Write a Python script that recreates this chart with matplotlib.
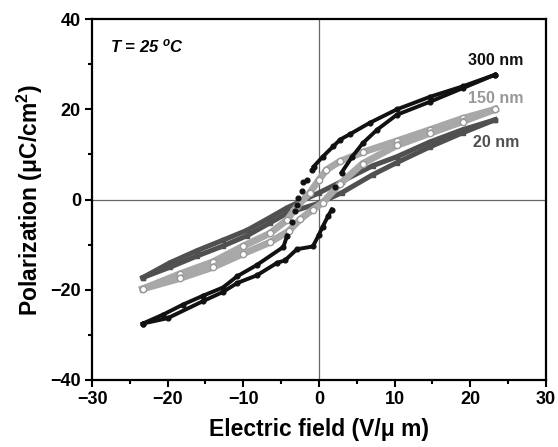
import matplotlib
matplotlib.use('Agg')
import matplotlib.pyplot as plt
from matplotlib.ticker import MultipleLocator

plt.rcParams['font.family'] = ['Liberation Sans', 'DejaVu Sans']
plt.rcParams['mathtext.fontset'] = 'custom'
plt.rcParams['mathtext.rm'] = 'Liberation Sans:bold'
plt.rcParams['mathtext.it'] = 'Liberation Sans:bold:italic'

# 300 nm loop: branch coming down from +Emax, then branch going back up
e300_down = [23.3, 19.0, 14.7, 10.3, 6.7, 4.1, 2.8, 1.9, 0.5, -0.7, -0.9, -1.6, -2.1,
             -2.2, -2.8, -2.9, -3.2, -3.6, -4.2, -4.7, -8.2, -10.8, -12.7, -15.3, -18.0,
             -20.6, -23.3]
p300_down = [27.7, 25.1, 22.8, 20.0, 17.0, 14.5, 13.3, 11.8, 9.5, 7.3, 6.6, 4.4, 4.0,
             1.8, 0.4, -1.1, -2.6, -5.0, -8.0, -10.5, -14.5, -17.0, -19.5, -21.3, -23.3,
             -25.5, -27.5]
e300_up = [-23.3, -20.0, -15.3, -12.7, -10.8, -8.2, -5.5, -4.5, -2.9, -0.8, 0.0, 0.5,
           1.2, 1.7, 2.1, 3.0, 4.4, 5.8, 7.7, 10.3, 14.7, 19.0, 23.3]
p300_up = [-27.5, -26.3, -22.5, -20.5, -18.5, -16.8, -14.0, -13.5, -11.0, -10.4, -7.8, -6.0,
           -3.7, -2.2, 2.7, 6.0, 9.5, 12.5, 15.5, 18.8, 21.7, 24.7, 27.7]

# 150 nm loop
e150_down = [23.3, 19.0, 14.7, 10.3, 5.8, 2.8, 1.0, 0.0, -1.2, -2.9, -4.2, -6.5, -10.0,
             -14.0, -18.4, -23.3]
p150_down = [20.0, 18.0, 15.5, 13.0, 10.5, 8.5, 6.6, 4.4, 1.5, -1.5, -4.5, -7.5, -10.3,
             -13.8, -16.5, -19.8]
e150_up = [-23.3, -18.4, -14.0, -10.0, -6.5, -4.0, -2.5, -0.8, 0.5, 2.8, 5.8, 10.3, 14.7,
           19.0, 23.3]
p150_up = [-19.8, -17.5, -15.0, -12.0, -9.5, -7.0, -4.4, -2.2, -0.7, 3.5, 8.0, 12.0, 14.7,
           17.3, 20.0]

# 20 nm loop
e20_down = [23.3, 19.0, 14.7, 10.3, 7.1, 3.0, 0.0, -4.2, -6.5, -9.5, -12.7, -16.1, -19.7,
            -23.3]
p20_down = [17.7, 15.5, 12.8, 9.5, 7.5, 4.0, 1.5, -1.8, -4.0, -6.8, -9.0, -11.3, -14.0,
            -17.3]
e20_up = [-23.3, -19.7, -16.1, -12.7, -9.5, -6.5, -4.2, 0.0, 3.0, 7.1, 10.3, 14.7, 19.0,
          23.3]
p20_up = [-17.3, -15.0, -12.5, -10.3, -8.0, -5.2, -3.0, -0.8, 1.5, 5.5, 8.2, 11.7, 14.8,
          17.7]

fig = plt.figure(figsize=(5.58, 4.47), dpi=100)
ax = fig.add_axes([0.165, 0.150, 0.813, 0.807])

ax.axhline(0, color='#666666', lw=0.9, zorder=1)
ax.axvline(0, color='#666666', lw=0.9, zorder=1)

for e, p in [(e20_down, p20_down), (e20_up, p20_up)]:
    ax.plot(e, p, '-s', color='#505050', lw=3.6, ms=3.2, zorder=2)
for e, p in [(e150_down, p150_down), (e150_up, p150_up)]:
    ax.plot(e, p, '-', color='#a8a8a8', lw=5, zorder=3)
    ax.plot(e, p, 'o', mfc='white', mec='#999999', ms=4.5, mew=1, zorder=3)

# 300 nm: solid where the points are dense, bare dots in the switching part
ax.plot(e300_down[:10], p300_down[:10], '-', color='#111111', lw=2.8, zorder=4)
ax.plot(e300_down[18:], p300_down[18:], '-', color='#111111', lw=2.8, zorder=4)
ax.plot(e300_down, p300_down, 'o', color='#111111', ms=3.4, zorder=4)
ax.plot(e300_up[:14], p300_up[:14], '-', color='#111111', lw=2.8, zorder=4)
ax.plot(e300_up[15:], p300_up[15:], '-', color='#111111', lw=2.8, zorder=4)
ax.plot(e300_up, p300_up, 'o', color='#111111', ms=3.4, zorder=4)

ax.set_xlim(-30, 30)
ax.set_ylim(-40, 40)
ax.xaxis.set_major_locator(MultipleLocator(10))
ax.xaxis.set_minor_locator(MultipleLocator(5))
ax.yaxis.set_major_locator(MultipleLocator(20))
ax.yaxis.set_minor_locator(MultipleLocator(10))
ax.tick_params(which='major', direction='out', length=5, width=1.5, labelsize=13, pad=3)
ax.tick_params(which='minor', direction='out', length=3, width=1.5)
ax.tick_params(axis='x', top=False)
ax.tick_params(axis='y', right=False)
for lbl in ax.get_xticklabels() + ax.get_yticklabels():
    lbl.set_fontweight('bold')
for s in ax.spines.values():
    s.set_linewidth(1.6)

ax.set_xlabel('Electric field (V/\u03bc m)', fontsize=16.5, fontweight='bold', labelpad=7)
ax.set_ylabel('Polarization (\u03bcC/cm$^2$)', fontsize=16.5, fontweight='bold', labelpad=4)

ax.text(-27.6, 34, '$T$ = 25 $^o$C', fontsize=12, fontweight='bold', style='italic',
        va='center', ha='left')
ax.text(23.4, 30.8, '300 nm', fontsize=11.5, fontweight='bold', color='#111111',
        ha='center', va='center')
ax.text(23.4, 22.4, '150 nm', fontsize=11.5, fontweight='bold', color='#999999',
        ha='center', va='center')
ax.text(23.4, 12.6, '20 nm', fontsize=11.5, fontweight='bold', color='#505050',
        ha='center', va='center')

fig.savefig('out.png', dpi=100)
